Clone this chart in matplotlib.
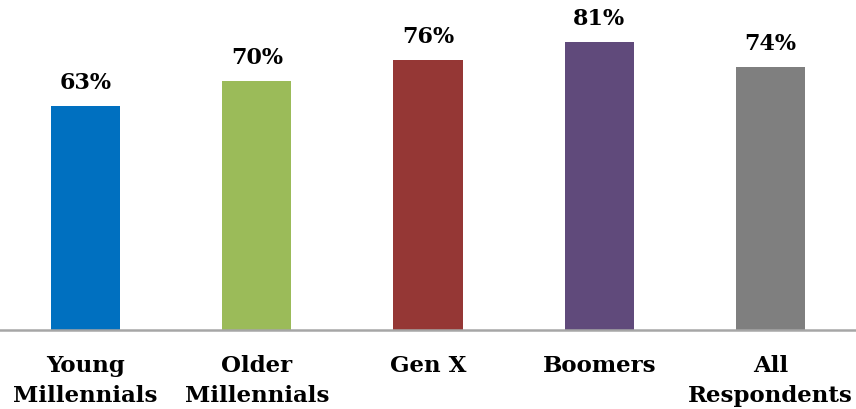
import numpy as np
import matplotlib.pyplot as plt

categories = ['Young\nMillennials', 'Older\nMillennials', 'Gen X', 'Boomers', 'All\nRespondents']
values = [63, 70, 76, 81, 74]
colors = ['#0070C0', '#9BBB59', '#953735', '#604A7B', '#7F7F7F']

plt.rcParams['font.family'] = ['DejaVu Serif']

fig = plt.figure(figsize=(8.56, 4.10), dpi=100)
ax = fig.add_axes([0, 0.1927, 1, 0.8073])

x = np.arange(len(categories))
bars = ax.bar(x, values, width=0.405, color=colors)

# value labels above the bars
for rect, v in zip(bars, values):
    ax.annotate('{}%'.format(v), (rect.get_x() + rect.get_width() / 2, v),
                xytext=(0, 9), textcoords='offset points',
                ha='center', va='bottom', fontsize=16, fontweight='bold')

ax.set_xlim(-0.5, 4.5)
ax.set_ylim(0, 93)
ax.set_xticks(x)
ax.set_xticklabels(categories, fontsize=16.5, fontweight='bold', linespacing=1.5)
ax.tick_params(axis='x', length=0, pad=17)
ax.set_yticks([])
for s in ['top', 'right', 'left']:
    ax.spines[s].set_visible(False)
ax.spines['bottom'].set_color('#A6A6A6')
ax.spines['bottom'].set_linewidth(1.8)

fig.savefig('out.png', dpi=100)
